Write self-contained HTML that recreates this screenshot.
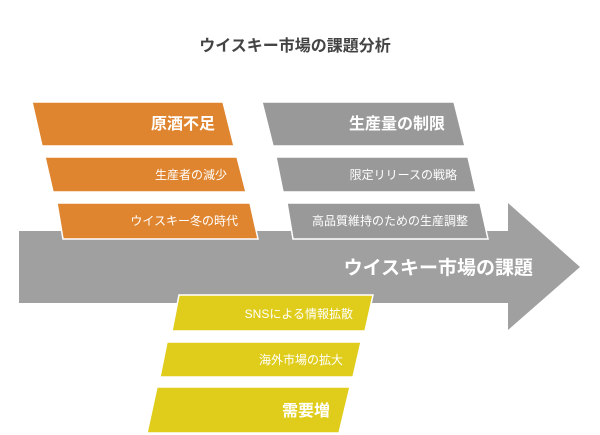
<!DOCTYPE html>
<html><head><meta charset="utf-8"><style>
html,body{margin:0;padding:0;background:#fff;width:600px;height:435px;overflow:hidden}
text{font-family:"Liberation Sans","Noto Sans CJK JP",sans-serif;fill:#fff}
</style></head><body>
<svg width="600" height="435" viewBox="0 0 600 435" xmlns="http://www.w3.org/2000/svg">
<text x="295" y="51" text-anchor="middle" font-size="16" font-weight="bold" style="fill:#444">ウイスキー市場の課題分析</text>
<polygon points="19,231 508,231 508,203 580,267 508,330 508,303 19,303" fill="#a0a0a0"/>
<g stroke="#fff" stroke-width="1.5">
<polygon points="32,102 223,102 234,146 42,146" fill="#e0852f"/>
<polygon points="45,157 237,157 246,192 53,192" fill="#e0852f"/>
<polygon points="57,203 250,203 258,239 63,239" fill="#e0852f"/>
<polygon points="262,102 454,102 465,146 273,146" fill="#999"/>
<polygon points="276,157 468,157 476,192 283,192" fill="#999"/>
<polygon points="287,203 480,203 488,239 293,239" fill="#999"/>
<polygon points="179,295 373,295 365,331 172,331" fill="#e0cc1a"/>
<polygon points="167,342 361,342 353,377 160,377" fill="#e0cc1a"/>
<polygon points="157,387 350,387 339,433 147,433" fill="#e0cc1a"/>
</g>
<g text-anchor="end">
<text x="215" y="129" font-size="16" font-weight="bold">原酒不足</text>
<text x="227" y="179" font-size="12">生産者の減少</text>
<text x="238" y="225" font-size="12">ウイスキー冬の時代</text>
<text x="445" y="129" font-size="16" font-weight="bold">生産量の制限</text>
<text x="457" y="179" font-size="12">限定リリースの戦略</text>
<text x="468" y="225" font-size="12">高品質維持のための生産調整</text>
<text x="533" y="274" font-size="19" font-weight="bold">ウイスキー市場の課題</text>
<text x="353" y="318" font-size="12">SNSによる情報拡散</text>
<text x="343" y="364" font-size="12">海外市場の拡大</text>
<text x="330" y="416" font-size="16" font-weight="bold">需要増</text>
</g>
</svg>
</body></html>
